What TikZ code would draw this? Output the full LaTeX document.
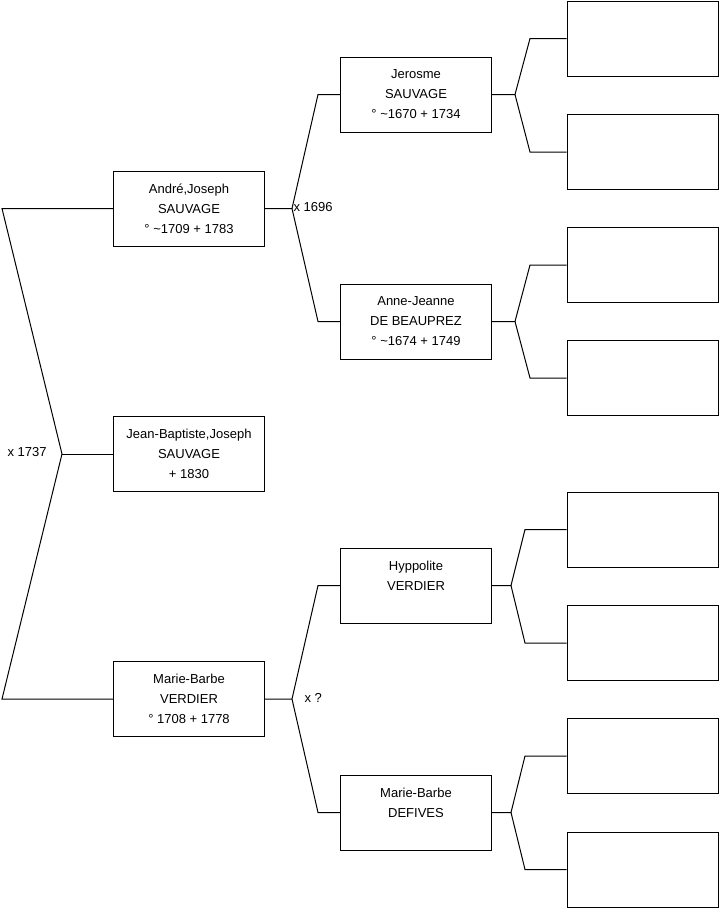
\documentclass[tikz,border=0pt]{standalone}
\usepackage{fontspec}
\setmainfont{Liberation Sans}
\begin{document}
\begin{tikzpicture}[x=1pt,y=-1pt,line width=1pt,
  person/.style={draw=black, rectangle, minimum width=151pt, minimum height=75pt, inner sep=0pt,
    align=center, font=\fontsize{13}{20}\selectfont},
  emptybox/.style={draw=black, rectangle, minimum width=151pt, minimum height=75pt, inner sep=0pt},
  marriage/.style={font=\fontsize{13}{20}\selectfont, inner sep=0pt, anchor=west},
  link/.style={draw=black, line width=1pt}]
\useasboundingbox (0,0) rectangle (719,908);
% generation 1
\node[person] (A)  at (189,208.5) {André,Joseph\\SAUVAGE\\° \textasciitilde1709 + 1783};
\node[person] (JB) at (189,454) {Jean-Baptiste,Joseph\\SAUVAGE\\+ 1830};
\node[person] (MB) at (189,699) {Marie-Barbe\\VERDIER\\° 1708 + 1778};
% generation 2
\node[person] (J)  at (416,94.5) {Jerosme\\SAUVAGE\\° \textasciitilde1670 + 1734};
\node[person] (AJ) at (416,321.5) {Anne-Jeanne\\DE BEAUPREZ\\° \textasciitilde1674 + 1749};
\node[person] (H)  at (416,585.5) {Hyppolite\\VERDIER\\\mbox{}};
\node[person] (D)  at (416,812.5) {Marie-Barbe\\DEFIVES\\\mbox{}};
% generation 3
\node[emptybox] (R1) at (642.5,38.5) {};
\node[emptybox] (R2) at (642.5,152) {};
\node[emptybox] (R3) at (642.5,265) {};
\node[emptybox] (R4) at (642.5,378) {};
\node[emptybox] (R5) at (642.5,529.5) {};
\node[emptybox] (R6) at (642.5,643) {};
\node[emptybox] (R7) at (642.5,756) {};
\node[emptybox] (R8) at (642.5,869.5) {};
% trunk
\coordinate (T0) at (2,208.5);
\coordinate (T1) at (2,699);
\coordinate (F0) at (62,454);
\draw[link] (A.west) -- (T0) -- (F0) -- (T1) -- (MB.west);
\draw[link] (F0) -- (JB.west);
\node[marriage] (m0) at (7,452) {x 1737};
% André fork
\coordinate (F1) at (292,208.5);
\coordinate (C1a) at (318,94.5);
\coordinate (C1b) at (318,321.5);
\draw[link] (A.east) -- (F1) -- (C1a) -- (J.west);
\draw[link] (F1) -- (C1b) -- (AJ.west);
\node[marriage] (m1) at (293,207) {x 1696};
% Marie-Barbe fork
\coordinate (F2) at (292,699);
\coordinate (C2a) at (318,585.5);
\coordinate (C2b) at (318,812.5);
\draw[link] (MB.east) -- (F2) -- (C2a) -- (H.west);
\draw[link] (F2) -- (C2b) -- (D.west);
\node[marriage] (m2) at (304,698) {x ?};
% Jerosme fork
\coordinate (F3) at (515,94.5);
\coordinate (C3a) at (530,38.5);
\coordinate (C3b) at (530,152);
\draw[link] (J.east) -- (F3) -- (C3a) -- (R1.west);
\draw[link] (F3) -- (C3b) -- (R2.west);
% Anne-Jeanne fork
\coordinate (F4) at (515,321.5);
\coordinate (C4a) at (530,265);
\coordinate (C4b) at (530,378);
\draw[link] (AJ.east) -- (F4) -- (C4a) -- (R3.west);
\draw[link] (F4) -- (C4b) -- (R4.west);
% Hyppolite fork
\coordinate (F5) at (511,585.5);
\coordinate (C5a) at (525,529.5);
\coordinate (C5b) at (525,643);
\draw[link] (H.east) -- (F5) -- (C5a) -- (R5.west);
\draw[link] (F5) -- (C5b) -- (R6.west);
% Defives fork
\coordinate (F6) at (511,812.5);
\coordinate (C6a) at (525,756);
\coordinate (C6b) at (525,869.5);
\draw[link] (D.east) -- (F6) -- (C6a) -- (R7.west);
\draw[link] (F6) -- (C6b) -- (R8.west);
\end{tikzpicture}
\end{document}
